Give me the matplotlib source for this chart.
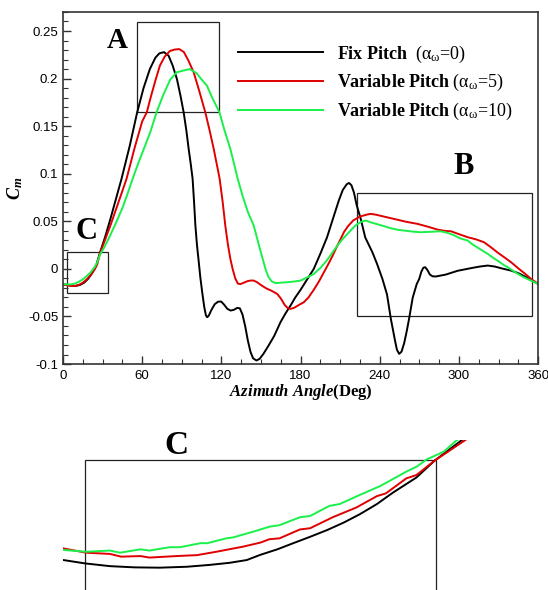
import matplotlib
matplotlib.use('Agg')
import matplotlib.pyplot as plt
from matplotlib.patches import Rectangle
from matplotlib.ticker import MultipleLocator

plt.rcParams['mathtext.fontset'] = 'custom'
plt.rcParams['mathtext.rm'] = 'Liberation Serif'
plt.rcParams['mathtext.it'] = 'Liberation Serif:italic'
plt.rcParams['mathtext.bf'] = 'Liberation Serif:bold'
plt.rcParams['mathtext.bfit'] = 'Liberation Serif:bold:italic'

# ---------------- data (main chart) ----------------
fix_angle = [0, 3, 6, 9.4, 13, 16, 19, 22, 25, 28, 32, 36, 40, 44.3, 50.6, 56.2, 61, 65.8, 70,
             73, 76.5, 80, 83, 86.3, 89, 91.4, 93.5, 95.2, 96.8, 98.2, 99.3, 100.3, 101.5,
             102.8, 104, 105.5, 107, 108.3, 109.3, 110.5, 112.5, 115, 117.5, 119.8, 122, 124.5,
             127, 129.5, 132, 134, 136, 138, 140, 142, 144, 146.6, 149, 152, 156, 160, 164.8,
             168.5, 172.4, 176, 180, 185, 190, 195, 200, 205.3, 209, 212, 215, 216.7, 218.5,
             220.5, 222.5, 225.6, 229, 234.4, 238, 242, 245.5, 248.4, 251.5, 253, 254.7, 256.5,
             258.5, 260.5, 262.2, 265, 268, 269.9, 271.5, 273, 274.4, 276, 278, 280, 282.5, 290,
             299, 310, 316, 321.8, 327, 333, 339.5, 345, 350, 355, 360]
fix_cm = [-0.016, -0.0168, -0.0175, -0.018, -0.0168, -0.0145, -0.0105, -0.0045, 0.003, 0.017,
          0.034, 0.053, 0.073, 0.0945, 0.1296, 0.1646, 0.19, 0.21, 0.222,
          0.2265, 0.2278, 0.224, 0.214, 0.1996, 0.182, 0.1646, 0.145, 0.126, 0.11, 0.0945, 0.07,
          0.0455, 0.025,
          0.008, -0.0084, -0.025, -0.040, -0.049, -0.0508, -0.049, -0.043, -0.037, -0.0345,
          -0.0343, -0.0375, -0.042,
          -0.0438, -0.043, -0.041, -0.0415, -0.048, -0.06, -0.075, -0.087, -0.094, -0.0963,
          -0.0945, -0.089, -0.080, -0.0705, -0.056,
          -0.047, -0.0385, -0.03, -0.022, -0.011, 0.0, 0.016, 0.033, 0.056, 0.072, 0.083, 0.089,
          0.0903, 0.088,
          0.080, 0.067, 0.0525, 0.033, 0.0175, 0.005, -0.0105, -0.027, -0.0525, -0.075, -0.085,
          -0.0893, -0.087,
          -0.078, -0.065, -0.0525, -0.03, -0.016, -0.0105, -0.003, 0.0012, 0.0018, -0.001,
          -0.006, -0.0078, -0.008, -0.006,
          -0.002, 0.001, 0.0025, 0.0035, 0.0025, 0.0003, -0.0018, -0.0045, -0.008, -0.012,
          -0.0158]

var5_angle = [0, 3, 6, 9, 12, 15, 18, 21, 24, 26, 28, 32, 36, 40, 44, 48.1, 54.4, 60, 63.5,
              66.1, 70, 73.4, 77, 81, 84.5, 88, 91.5, 95, 99, 103, 107.8, 111, 114.2, 116.5,
              118.7, 121, 123, 125, 126.8, 128.5, 130.5, 132.5, 134.5, 137, 140, 142.5, 144.5,
              147, 150, 154, 158, 162.3, 165, 168, 170.5, 172.4, 175, 178, 182.5, 186, 190,
              194, 197.7, 201, 204, 207, 210.4, 213, 216, 220, 225, 230, 233, 237, 243, 253,
              260, 268.6, 276, 283.8, 289, 294, 300, 306.6, 313, 319, 324, 329, 334, 339.5,
              345, 350, 355, 360]
var5_cm = [-0.0165, -0.0172, -0.018, -0.018, -0.0168, -0.0145, -0.011, -0.0065, -0.0005,
           0.005, 0.0165, 0.031, 0.046, 0.062, 0.078, 0.0945, 0.128, 0.155, 0.1646,
           0.1786, 0.198, 0.2136, 0.223, 0.229, 0.2305, 0.231, 0.228, 0.219, 0.2066, 0.188,
           0.1646, 0.146, 0.126, 0.11,
           0.0945, 0.07, 0.045, 0.025, 0.0105, 0.0, -0.01, -0.0155, -0.016, -0.0145, -0.0128,
           -0.0122, -0.0123,
           -0.014, -0.017, -0.0205, -0.023, -0.0263, -0.031, -0.038, -0.0415, -0.042, -0.041,
           -0.0385, -0.035, -0.03, -0.022,
           -0.013, -0.0035, 0.005, 0.013, 0.022, 0.0315, 0.039, 0.045, 0.051, 0.055, 0.057,
           0.0578, 0.057, 0.055, 0.0518,
           0.0495, 0.0473, 0.0445, 0.0413, 0.040, 0.0395, 0.0365, 0.0333, 0.031, 0.028, 0.023,
           0.0175, 0.0125, 0.007,
           0.0005, -0.005, -0.011, -0.0158]

var10_angle = [0, 3, 6, 9, 12, 15, 18, 21, 24, 26, 28, 31, 35, 40, 45, 48.4, 52.7, 57, 61.5,
               66.1, 70.9, 76, 81.3, 86, 91, 95.9, 101, 105, 109.1, 113, 118.5, 122.5, 126.8,
               129.5, 132.4, 136, 140, 144.5, 149, 153.4, 155.5, 158, 161, 165, 170, 175, 180,
               185, 190, 195, 200, 204, 207.9, 211, 215, 219, 222, 226, 229.4, 233, 238, 243,
               248.4, 254, 260, 266, 271, 279, 286, 291, 296, 301, 306.6, 310, 314, 318, 321.8,
               326, 330, 334, 337, 342, 348, 354, 360]
var10_cm = [-0.016, -0.0163, -0.0163, -0.0155, -0.0135, -0.011, -0.0075, -0.0035, 0.002, 0.007,
            0.015, 0.022, 0.033, 0.048, 0.064, 0.077, 0.0945, 0.111, 0.127,
            0.1436, 0.1646, 0.183, 0.199, 0.2065, 0.2084, 0.21, 0.206, 0.199, 0.1925, 0.18,
            0.1646, 0.145, 0.126,
            0.111, 0.0945, 0.077, 0.06, 0.0455, 0.022, 0.0, -0.008, -0.013, -0.015, -0.0145,
            -0.014, -0.0133, -0.0123,
            -0.009, -0.0053, 0.001, 0.009, 0.017, 0.0245, 0.03, 0.036, 0.042, 0.046, 0.0495,
            0.0508, 0.049, 0.047, 0.045,
            0.0427, 0.041, 0.040, 0.039, 0.0385, 0.039, 0.0395, 0.038, 0.0355, 0.032, 0.0298,
            0.026, 0.0225, 0.019, 0.0158,
            0.0115, 0.008, 0.004, 0.0018, -0.003, -0.008, -0.012, -0.0158]

# ---------------- data (zoomed view C) ----------------
zfix_angle = [1.08, 3, 5.2, 7.4, 9.6, 12, 14.0, 15.8, 17.3, 18.5, 20, 21.4, 22.9, 24.4, 25.9,
              27.3, 28.8, 30.2, 32.3, 33.9, 36.3, 37.5]
zfix_cm = [-0.0147, -0.0158, -0.0167, -0.0171, -0.0172, -0.0169, -0.0163, -0.0156, -0.0147,
           -0.0130, -0.0112, -0.0092, -0.0071, -0.0049, -0.0024, 0.0003, 0.0036, 0.0073,
           0.0123, 0.0178, 0.0245, 0.028]
zvar5_angle = [1.08, 3.1, 5.2, 6.2, 7.9, 8.7, 11.1, 12.9, 14.6, 17.0, 18.5, 19.3, 20.2, 22.0,
               22.9, 24.9, 27.0, 28.8, 29.6, 31.4, 32.3, 33.9, 36.6, 37.5]
zvar5_cm = [-0.0109, -0.0123, -0.0127, -0.0136, -0.0134, -0.0139, -0.0134, -0.0131, -0.012,
            -0.0103, -0.009, -0.0079, -0.0076, -0.0047, -0.0043, -0.0007, 0.0025, 0.0062,
            0.0071, 0.012, 0.0131, 0.0178, 0.0245, 0.027]
zvar10_angle = [1.08, 3.1, 5.2, 6.1, 7.9, 8.7, 10.5, 11.4, 13.2, 13.8, 15.5, 16.1, 17.9,
                19.3, 20.2, 22.0, 22.9, 24.6, 25.5, 27.3, 29.1, 31.4, 32.3, 33.2, 34.7, 35.8,
                37]
zvar10_cm = [-0.0114, -0.012, -0.0116, -0.0123, -0.0112, -0.0116, -0.0105, -0.0105, -0.0092,
             -0.0092, -0.0076, -0.0073, -0.0054, -0.0038, -0.0033, -0.0007, -0.0003, 0.003,
             0.0036, 0.0066, 0.0095, 0.0142, 0.0158, 0.0182, 0.0207, 0.0243, 0.027]

labels = [r'$\mathbf{Fix\ Pitch}$  (α$_{\mathrm{ω}}$=0)',
          r'$\mathbf{Variable\ Pitch}$ (α$_{\mathrm{ω}}$=5)',
          r'$\mathbf{Variable\ Pitch}$ (α$_{\mathrm{ω}}$=10)']
colors = ['#000000', '#e00000', '#19f04a']

x_ticks = [0, 60, 120, 180, 240, 300, 360]
y_ticks = [-0.1, -0.05, 0, 0.05, 0.1, 0.15, 0.2, 0.25]
y_ticklabels = ['-0.1', '-0.05', '0', '0.05', '0.1', '0.15', '0.2', '0.25']

# boxes (x0, y0, width, height) in data units
box_A = (56, 0.165, 62.5, 0.094)
box_B = (222.5, -0.05, 132.5, 0.13)
box_C = (3, -0.0255, 31, 0.0435)

# ---------------- figure ----------------
fig = plt.figure(figsize=(5.48, 5.90), dpi=100)
ax = fig.add_axes([0.115, 0.383, 0.867, 0.5967])

lw = 1.4
ax.plot(fix_angle, fix_cm, color=colors[0], lw=lw, label=labels[0])
ax.plot(var5_angle, var5_cm, color=colors[1], lw=lw, label=labels[1])
ax.plot(var10_angle, var10_cm, color=colors[2], lw=lw, label=labels[2])

ax.set_xlim(0, 360)
ax.set_ylim(-0.1, 0.27)
ax.set_xticks(x_ticks)
ax.set_yticks(y_ticks)
ax.set_yticklabels(y_ticklabels)
ax.xaxis.set_minor_locator(MultipleLocator(15))
ax.yaxis.set_minor_locator(MultipleLocator(0.01))
ax.tick_params(which='both', direction='in', top=False, right=False, color='#333333')
ax.tick_params(which='major', length=6, width=1.0, labelsize=9.5)
ax.tick_params(which='minor', length=3.5, width=0.8)
ax.tick_params(axis='x', pad=4)
for lab in ax.get_xticklabels() + ax.get_yticklabels():
    lab.set_family('Liberation Sans')
for s in ax.spines.values():
    s.set_color('#333333')
    s.set_linewidth(1.2)

ax.set_xlabel(r'$\mathbfit{Azimuth\ Angle}\mathbf{(Deg)}$', fontsize=12, labelpad=0)
ax.set_ylabel(r'$\mathbfit{C_m}$', fontsize=13, labelpad=2)

for b in (box_A, box_B, box_C):
    ax.add_patch(Rectangle((b[0], b[1]), b[2], b[3], fill=False, ec='#222222', lw=0.9))

ax.text(41, 0.2395, 'A', fontsize=21, fontweight='bold', family='Liberation Serif',
        ha='center', va='center')
ax.text(303.8, 0.1077, 'B', fontsize=22, fontweight='bold', family='Liberation Serif',
        ha='center', va='center')
ax.text(17.5, 0.0394, 'C', fontsize=22, fontweight='bold', family='Liberation Serif',
        ha='center', va='center')

leg = ax.legend(loc='upper left', bbox_to_anchor=(0.368, 0.91), frameon=False,
                prop={'family': 'Liberation Serif', 'size': 13},
                handlelength=4.7, handletextpad=0.8, labelspacing=0.42, borderpad=0,
                borderaxespad=0)

# ---------------- zoom view C ----------------
axz = fig.add_axes([0.115, 0.0, 0.797, 0.2542])
axz.plot(zfix_angle, zfix_cm, color=colors[0], lw=lw)
axz.plot(zvar5_angle, zvar5_cm, color=colors[1], lw=lw)
axz.plot(zvar10_angle, zvar10_cm, color=colors[2], lw=lw)
axz.set_xlim(1.06, 39.66)
axz.set_ylim(-0.0245, 0.02454)
axz.add_patch(Rectangle((box_C[0], box_C[1]), box_C[2], box_C[3], fill=False,
                        ec='#222222', lw=0.9))
axz.text(11.1, 0.0229, 'C', fontsize=24, fontweight='bold', family='Liberation Serif',
         ha='center', va='center', clip_on=False)
axz.set_axis_off()

fig.savefig('out.png', dpi=100)
